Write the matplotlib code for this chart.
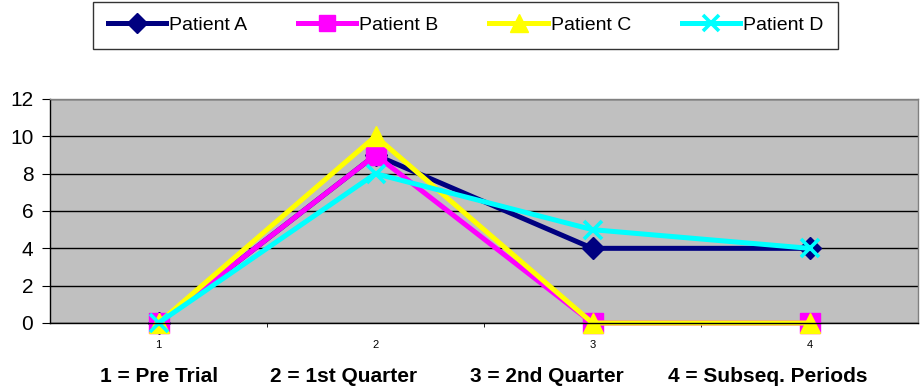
import numpy as np
import matplotlib.pyplot as plt

plt.rcParams['font.family'] = ['Liberation Sans', 'DejaVu Sans']

periods = [1, 2, 3, 4]
patient_a = [0, 9, 4, 4]
patient_b = [0, 9, 0, 0]
patient_c = [0, 10, 0, 0]
patient_d = [0, 8, 5, 4]
period_notes = ["1 = Pre Trial", "2 = 1st Quarter", "3 = 2nd Quarter", "4 = Subseq. Periods"]

fig = plt.figure(figsize=(9.22, 3.89), dpi=100)
ax = fig.add_axes([50 / 922, 1 - 323 / 389, 868 / 922, 224 / 389])
ax.set_facecolor('#C0C0C0')

series = [
    ("Patient A", patient_a, '#000080', 'D', 11.5),
    ("Patient B", patient_b, '#FF00FF', 's', 14),
    ("Patient C", patient_c, '#FFFF00', '^', 14.5),
    ("Patient D", patient_d, '#00FFFF', 'x', 13),
]
for name, vals, col, mk, ms in series:
    ax.plot(periods, vals, color=col, lw=3.6, marker=mk, ms=ms,
            mec=col, mfc=col, mew=2.6 if mk == 'x' else 1, label=name,
            solid_joinstyle='miter', clip_on=False)

ax.set_xlim(0.5, 4.5)
ax.set_ylim(0, 12)
ax.set_yticks(np.arange(0, 13, 2))
ax.yaxis.grid(True, color='#000000', lw=1)
ax.set_axisbelow(True)
ax.set_xticks(periods)
ax.set_xticks([1.5, 2.5, 3.5], minor=True)
ax.tick_params(axis='x', which='major', length=0, labelsize=8, pad=12)
ax.tick_params(axis='x', which='minor', length=3, direction='out', color='black')
ax.tick_params(axis='y', length=6, labelsize=15, pad=6, color='black')

ax.spines['top'].set_color('#808080')
ax.spines['right'].set_color('#808080')
ax.spines['left'].set_color('black')
ax.spines['bottom'].set_color('black')
for s in ax.spines.values():
    s.set_linewidth(1)

leg = fig.legend(loc='upper left', bbox_to_anchor=(93 / 922, 1 - 47 / 389, 745 / 922, 45 / 389),
                 mode='expand', borderaxespad=0, ncol=4,
                 fontsize=14, frameon=True, fancybox=False, edgecolor='black',
                 handlelength=3.0, handletextpad=0.15,
                 borderpad=0.75, markerscale=0.85)
leg.get_frame().set_linewidth(1)

note_x = [100, 270, 470, 668]
for x, note in zip(note_x, period_notes):
    fig.text(x / 922, 1 - 377 / 389, note, fontsize=15, fontweight='bold', va='center', ha='left')

fig.savefig("out.png", dpi=100)
